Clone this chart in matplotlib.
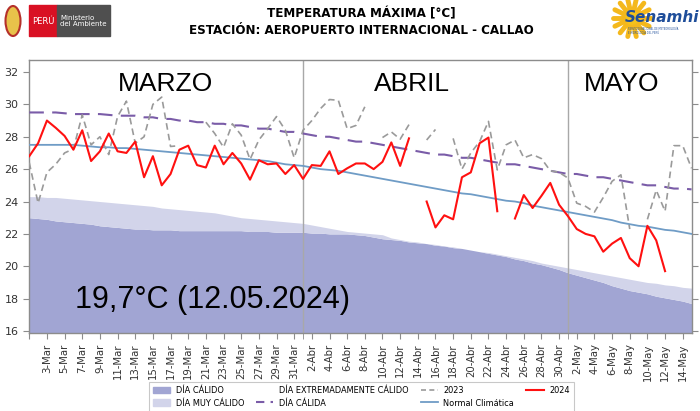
import numpy as np
import pandas as pd
import matplotlib
matplotlib.use('Agg')
import matplotlib.pyplot as plt
import matplotlib.patches as mpatches
from matplotlib.lines import Line2D

nan = np.nan

# --- data ---
dates = pd.date_range('2024-03-01', '2024-05-15', freq='D')
month_abbr = {3: 'Mar', 4: 'Abr', 5: 'May'}
month_names = ['MARZO', 'ABRIL', 'MAYO']

t2024 = [
    # marzo
    26.8, 27.6, 29.0, 28.55, 28.05, 27.2, 28.4, 26.5, 27.1, 28.2,
    27.1, 27.0, 27.7, 25.5, 26.8, 25.0, 25.7, 27.2, 27.45, 26.25,
    26.1, 27.45, 26.3, 27.0, 26.35, 25.35, 26.55, 26.3, 26.35, 25.7, 26.25,
    # abril
    25.4, 26.25, 26.2, 27.1, 25.7, 26.05, 26.35, 26.35, 26.0, 26.45,
    27.65, 26.2, 27.9, nan, 24.0, 22.4, 23.15, 22.9, 25.5, 25.8,
    27.6, 27.95, 23.4, nan, 22.95, 24.4, 23.6, 24.35, 25.15, 23.8,
    # mayo
    23.1, 22.3, 22.0, 21.85, 20.9, 21.4, 21.75, 20.5, 20.0, 22.5,
    21.6, 19.7, nan, nan, nan,
]

t2023 = [
    26.4, 23.9, 25.8, 26.3, 27.0, 27.25, 29.35, 27.5, 28.0, 26.9,
    29.25, 30.2, 27.6, 28.0, 30.0, 30.45, 27.4, 27.45, nan, nan,
    28.9, 28.2, 27.35, 28.8, 28.1, 26.6, 27.8, 28.5, 29.25, 28.4, 26.7,
    28.4, 29.0, 29.75, 30.3, 30.25, 28.5, 28.7, 29.85, nan, 27.95,
    28.3, 27.85, 28.75, nan, 27.8, 28.45, nan, 27.9, 26.0, 27.0,
    27.7, 28.95, 25.95, 27.5, 27.8, 26.7, 26.9, 26.65, 25.9, 25.8,
    25.45, 23.9, 23.7, 23.35, 24.25, 25.25, 25.65, 22.3, nan, 22.9,
    24.7, 23.4, 27.45, 27.45, 26.05,
]

normal = [
    27.5, 27.5, 27.5, 27.5, 27.5, 27.5, 27.45, 27.4, 27.35, 27.35,
    27.3, 27.3, 27.25, 27.2, 27.15, 27.1, 27.05, 27.0, 26.95, 26.9,
    26.85, 26.8, 26.75, 26.7, 26.65, 26.6, 26.55, 26.5, 26.4, 26.3, 26.25,
    26.2, 26.1, 26.0, 25.95, 25.9, 25.8, 25.7, 25.6, 25.5, 25.4,
    25.3, 25.2, 25.1, 25.0, 24.9, 24.8, 24.7, 24.6, 24.5, 24.45,
    24.35, 24.25, 24.15, 24.05, 24.0, 23.9, 23.75, 23.65, 23.55, 23.45,
    23.35, 23.25, 23.15, 23.05, 22.95, 22.85, 22.7, 22.6, 22.5, 22.45,
    22.35, 22.25, 22.2, 22.1, 22.0,
]

dia_calida = [
    29.5, 29.5, 29.5, 29.5, 29.45, 29.4, 29.4, 29.4, 29.4, 29.35,
    29.3, 29.3, 29.3, 29.2, 29.2, 29.1, 29.1, 29.0, 29.0, 28.9,
    28.9, 28.8, 28.8, 28.7, 28.7, 28.6, 28.5, 28.5, 28.4, 28.3, 28.3,
    28.2, 28.1, 28.0, 28.0, 27.9, 27.8, 27.7, 27.7, 27.6, 27.5,
    27.4, 27.3, 27.2, 27.1, 27.0, 26.9, 26.9, 26.8, 26.7, 26.7,
    26.6, 26.5, 26.4, 26.3, 26.3, 26.2, 26.1, 26.0, 25.9, 25.8,
    25.7, 25.7, 25.6, 25.5, 25.5, 25.4, 25.3, 25.2, 25.1, 25.0,
    25.0, 24.9, 24.8, 24.8, 24.75,
]

dia_muy_calido = [
    24.3, 24.3, 24.25, 24.25, 24.2, 24.15, 24.1, 24.05, 24.0, 23.95,
    23.9, 23.85, 23.8, 23.75, 23.7, 23.6, 23.55, 23.5, 23.45, 23.4,
    23.35, 23.3, 23.2, 23.1, 23.0, 22.95, 22.9, 22.85, 22.8, 22.75, 22.7,
    22.65, 22.55, 22.45, 22.35, 22.25, 22.15, 22.1, 22.05, 22.0, 21.95,
    21.75, 21.65, 21.55, 21.5, 21.4, 21.35, 21.25, 21.2, 21.1, 21.0,
    20.9, 20.85, 20.75, 20.65, 20.55, 20.45, 20.35, 20.2, 20.1, 20.0,
    19.9, 19.8, 19.7, 19.6, 19.5, 19.4, 19.3, 19.2, 19.1, 19.0,
    18.95, 18.85, 18.8, 18.7, 18.65,
]

dia_calido = [
    23.0, 22.95, 22.9, 22.8, 22.75, 22.7, 22.65, 22.6, 22.5, 22.45,
    22.4, 22.35, 22.3, 22.3, 22.25, 22.25, 22.25, 22.2, 22.2, 22.2,
    22.2, 22.2, 22.2, 22.2, 22.2, 22.15, 22.15, 22.15, 22.1, 22.1, 22.1,
    22.1, 22.05, 22.05, 22.0, 22.0, 22.0, 21.95, 21.9, 21.8, 21.7,
    21.65, 21.6, 21.5, 21.45, 21.4, 21.3, 21.25, 21.15, 21.1, 21.0,
    20.9, 20.8, 20.7, 20.6, 20.45, 20.35, 20.2, 20.1, 19.95, 19.8,
    19.6, 19.45, 19.3, 19.15, 19.0, 18.8, 18.65, 18.5, 18.4, 18.3,
    18.15, 18.05, 17.95, 17.85, 17.7,
]

min_label = '19,7°C (12.05.2024)'

# --- styles ---
c_calido = '#A1A5D3'
c_muy_calido = '#D2D4EA'
c_calida = '#7A5CA8'
c_2023 = '#9A9A9A'
c_normal = '#6F9CC6'
c_2024 = '#FF1010'
c_axis = '#8C8C8C'

x = np.arange(len(dates))

fig = plt.figure(figsize=(7.0, 4.11), dpi=100, facecolor='white')
ax = fig.add_axes([29 / 700, 78 / 411, 663 / 700, 273 / 411])

ax.fill_between(x, 0, dia_calido, color=c_calido, lw=0, zorder=1)
ax.fill_between(x, dia_calido, dia_muy_calido, color=c_muy_calido, lw=0, zorder=1)

month_starts = [i for i, d in enumerate(dates) if d.day == 1 and i > 0]
for i in month_starts:
    ax.axvline(i, color='#A8A8A8', lw=1.0, zorder=2)

ax.plot(x, dia_calida, color=c_calida, lw=1.5, dashes=(7, 4), zorder=3)
ax.plot(x, normal, color=c_normal, lw=1.3, zorder=3)
ax.plot(x, t2023, color=c_2023, lw=1.2, dashes=(4, 2.5), zorder=4)
ax.plot(x, t2024, color=c_2024, lw=1.5, zorder=5)

ax.set_xlim(-0.03, len(dates) - 0.95)
ax.set_ylim(15.88, 32.74)

tick_idx = x[::2]
tick_labels = ['' if i == 0 else f"{dates[i].day}-{month_abbr[dates[i].month]}" for i in tick_idx]
ax.set_xticks(tick_idx)
ax.set_xticklabels(tick_labels, rotation=90, fontsize=7.3, color='#333333')
ax.set_xticks(month_starts, minor=True)
ax.set_yticks(np.arange(16, 33, 2))
ax.tick_params(axis='y', labelsize=8, colors='#333333', right=True, length=4)
ax.tick_params(axis='x', which='both', length=4, color=c_axis)
ax.tick_params(axis='y', color=c_axis)
for s in ax.spines.values():
    s.set_color(c_axis)
    s.set_linewidth(1.0)

# month names
month_pos = [15.4, 43.3, 67.1]
for name, xp in zip(month_names, month_pos):
    ax.text(xp, 31.25, name, ha='center', va='center', fontsize=19,
            family='Liberation Sans', color='black', zorder=6)

ax.text(5.2, 17.92, min_label, ha='left', va='center', fontsize=22,
        family='Liberation Sans', color='black', zorder=6)

# titles
fig.text(0.516, 0.966, 'TEMPERATURA MÁXIMA [°C]', ha='center', va='center',
         fontsize=9.5, fontweight='bold', family='DejaVu Sans', fontstretch='condensed')
fig.text(0.516, 0.925, 'ESTACIÓN: AEROPUERTO INTERNACIONAL - CALLAO', ha='center', va='center',
         fontsize=9.5, fontweight='bold', family='DejaVu Sans', fontstretch='condensed')

# left logo (Peru / Ministerio del Ambiente)
W, H = 700, 411
def fbox(x0, y0, w, h, color):
    fig.patches.append(mpatches.Rectangle((x0 / W, 1 - (y0 + h) / H), w / W, h / H,
                                          transform=fig.transFigure, color=color, zorder=1))
fig.patches.append(mpatches.Ellipse((13 / W, 1 - 21 / H), 15 / W, 30 / H,
                                    transform=fig.transFigure, facecolor='#E8C24A',
                                    edgecolor='#B5302A', lw=1.5))
fbox(29, 5, 28, 31, '#D91023')
fbox(57, 5, 53, 31, '#4F4F4F')
fig.text(43 / W, 1 - 21 / H, 'PERÚ', ha='center', va='center', color='white', fontsize=6)
fig.text(60 / W, 1 - 21 / H, 'Ministerio\ndel Ambiente', ha='left', va='center',
         color='white', fontsize=5, linespacing=1.1)

# right logo (Senamhi)
sun_c = (632, 18)
for ang in np.linspace(0, 2 * np.pi, 14, endpoint=False):
    r0, r1 = 9, 19
    fig.add_artist(Line2D([(sun_c[0] + r0 * np.cos(ang)) / W, (sun_c[0] + r1 * np.cos(ang)) / W],
                          [1 - (sun_c[1] + r0 * np.sin(ang)) / H, 1 - (sun_c[1] + r1 * np.sin(ang)) / H],
                          transform=fig.transFigure, color='#F4B81C', lw=3.5, solid_capstyle='round'))
fig.patches.append(mpatches.Ellipse((sun_c[0] / W, 1 - sun_c[1] / H), 20 / W, 20 / H,
                                    transform=fig.transFigure, color='#F4C21C'))
fig.text(662 / W, 1 - 18 / H, 'Senamhi', ha='center', va='center', color='#1F4E9A',
         fontsize=11, fontweight='bold', style='italic', family='DejaVu Sans')
fig.text(628 / W, 1 - 31 / H, 'SERVICIO NACIONAL DE METEOROLOGÍA\nE HIDROLOGÍA DEL PERÚ', ha='left',
         va='center', color='#1F4E9A', fontsize=1.8, linespacing=1.1)

# legend
handles = [
    mpatches.Patch(color=c_calido, label='DÍA CÁLIDO'),
    mpatches.Patch(color=c_muy_calido, label='DÍA MUY CÁLIDO'),
    mpatches.Patch(facecolor='none', edgecolor='none', label='DÍA EXTREMADAMENTE CÁLIDO'),
    Line2D([], [], color=c_calida, lw=1.5, dashes=(4, 3), label='DÍA CÁLIDA'),
    Line2D([], [], color=c_2023, lw=1.2, dashes=(3, 2), label='2023'),
    Line2D([], [], color=c_normal, lw=1.3, label='Normal Climática'),
    Line2D([], [], color=c_2024, lw=1.5, label='2024'),
]
leg = fig.legend(handles=handles, loc='upper center', bbox_to_anchor=(0.516, 0.082), ncol=4,
                 frameon=True, fancybox=False, edgecolor='#BBBBBB',
                 handlelength=1.9, handletextpad=0.6, columnspacing=1.3, borderpad=0.45,
                 labelspacing=0.4,
                 prop={'family': 'DejaVu Sans', 'stretch': 'condensed', 'size': 6.6})
leg.get_frame().set_linewidth(0.8)

fig.savefig('out.png', dpi=100, facecolor='white')
